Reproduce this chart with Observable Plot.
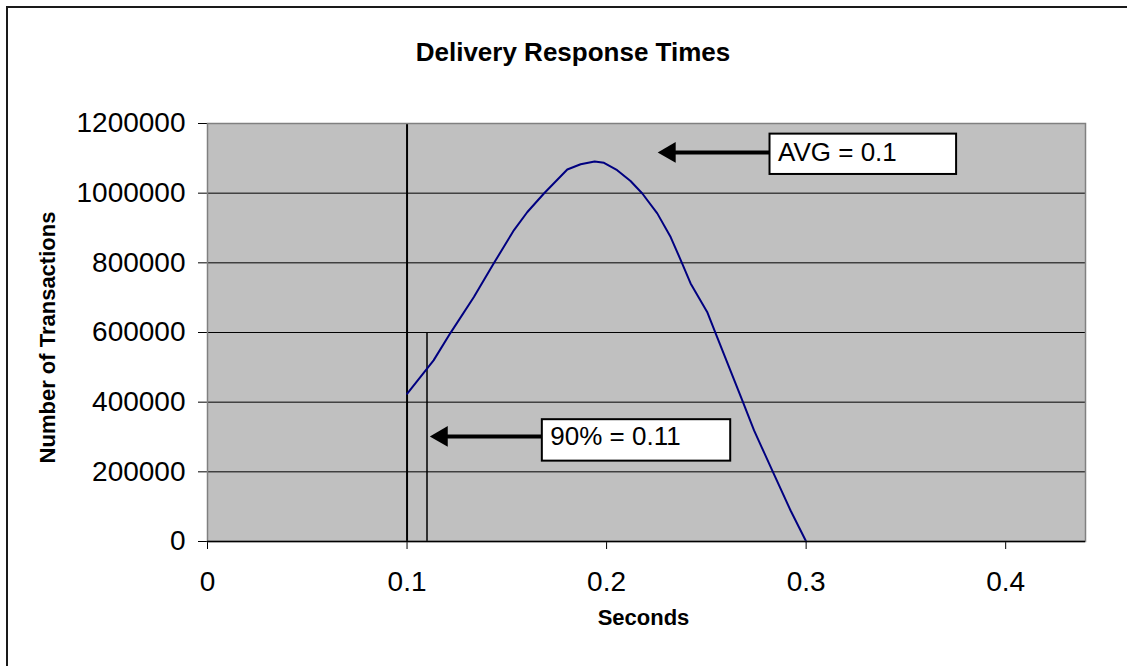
<!DOCTYPE html>
<html>
<head>
<meta charset="utf-8">
<script src="https://cdn.jsdelivr.net/npm/d3@7"></script>
<script src="https://cdn.jsdelivr.net/npm/@observablehq/plot@0.6"></script>
<style>
  html, body { margin: 0; padding: 0; background: #fff; overflow: hidden; }
  #wrap { position: relative; width: 1127px; height: 666px; overflow: hidden; }
  #border { position: absolute; left: 6px; top: 6px; width: 1200px; height: 800px;
            border-left: 2px solid #1a1a1a; border-top: 2px solid #1a1a1a; }
  #chart { position: absolute; left: 0; top: 0; }
</style>
</head>
<body>
<div id="wrap"><div id="border"></div><div id="chart"></div></div>
<script>
// Curve: seconds vs number of transactions
const seconds = [0.1, 0.1133, 0.1218, 0.1335, 0.1434, 0.1536, 0.1603, 0.1686, 0.1803, 0.187, 0.1940,
                 0.1987, 0.2053, 0.2120, 0.2179, 0.2254, 0.2321, 0.2379, 0.2421, 0.2504, 0.2554,
                 0.2680, 0.2739, 0.2830, 0.2922, 0.3];
const transactions = [424000, 520000, 599000, 702000, 798000, 894000, 946000, 999000, 1068000, 1083000, 1091000,
                      1087000, 1066000, 1035000, 999000, 942000, 874000, 798000, 741000, 659000, 587000,
                      405000, 319000, 204000, 89000, 0];

// Vertical markers
const markerX = [0.1, 0.11];
const markerTop = [1200000, 600000];
const markerWidth = [2, 1.5];

// Annotations (data units)
const annText = ["AVG = 0.1", "90% = 0.11"];
const annBoxX1 = [0.2819, 0.1678];
const annBoxX2 = [0.3754, 0.2622];
const annBoxY1 = [1053700, 230700];
const annBoxY2 = [1169500, 349700];
const annArrowY = [1117000, 301700];
const annArrowTip = [0.2256, 0.1114];

// Axis ticks
const xTicks = [0, 0.1, 0.2, 0.3, 0.4];
const yTicks = [0, 200000, 400000, 600000, 800000, 1000000, 1200000];

const curve = seconds.map((s, i) => ({s, n: transactions[i]}));
const markers = markerX.map((x, i) => ({x, top: markerTop[i], w: markerWidth[i]}));
const anns = annText.map((t, i) => ({t, x1: annBoxX1[i], x2: annBoxX2[i], y1: annBoxY1[i], y2: annBoxY2[i],
                                      ay: annArrowY[i], tip: annArrowTip[i]}));

const font = "'Liberation Sans', Arial, Helvetica, sans-serif";

const chart = Plot.plot({
  width: 1127,
  height: 666,
  marginLeft: 207,
  marginRight: 42,
  marginTop: 123,
  marginBottom: 125,
  style: {fontFamily: font, fontSize: "28px", color: "#000", background: "transparent", overflow: "visible"},
  x: {domain: [0, 0.44], ticks: xTicks, tickSize: 8, tickPadding: 22, tickFormat: d => String(d), label: null},
  y: {domain: [0, 1200000], ticks: yTicks, tickSize: 9, tickPadding: 13, tickFormat: d => String(d), label: null},
  marks: [
    Plot.frame({fill: "#c0c0c0", stroke: null}),
    Plot.gridY(yTicks, {stroke: "#000", strokeOpacity: 1, strokeWidth: 1}),
    Plot.ruleX(markers, {x: "x", y1: 0, y2: "top", stroke: "#000", strokeWidth: "w"}),
    Plot.line(curve, {x: "s", y: "n", stroke: "#000080", strokeWidth: 2}),
    // annotation arrows
    Plot.ruleY(anns, {y: "ay", x1: "tip", x2: "x1", insetLeft: 12, stroke: "#000", strokeWidth: 4}),
    Plot.dot(anns, {x: "tip", y: "ay", symbol: "triangle", r: 7.7, rotate: -90, dx: 12, fill: "#000", stroke: null}),
    // annotation boxes
    Plot.rect(anns, {x1: "x1", x2: "x2", y1: "y1", y2: "y2", fill: "#fff", stroke: "#000", strokeWidth: 2}),
    Plot.text(anns, {x: "x1", y: "ay", text: "t", textAnchor: "start", dx: 8, fontSize: 26, fill: "#000"}),
    // frame and axis line
    Plot.frame({stroke: "#808080", strokeWidth: 1.5}),
    Plot.ruleY([0], {stroke: "#000", strokeWidth: 1.5}),
    // titles
    Plot.text(["Delivery Response Times"], {frameAnchor: "top", dx: -73.5, dy: -80.6, fontSize: 26, fontWeight: "bold", fill: "#000"}),
    Plot.text(["Seconds"], {frameAnchor: "bottom", dx: -3, dy: 83.7, fontSize: 22, fontWeight: "bold", fill: "#000"}),
    Plot.text(["Number of Transactions"], {frameAnchor: "left", textAnchor: "middle", dx: -160, dy: 5, rotate: -90, fontSize: 22, fontWeight: "bold", fill: "#000"})
  ]
});
document.getElementById("chart").appendChild(chart);
</script>
</body>
</html>
